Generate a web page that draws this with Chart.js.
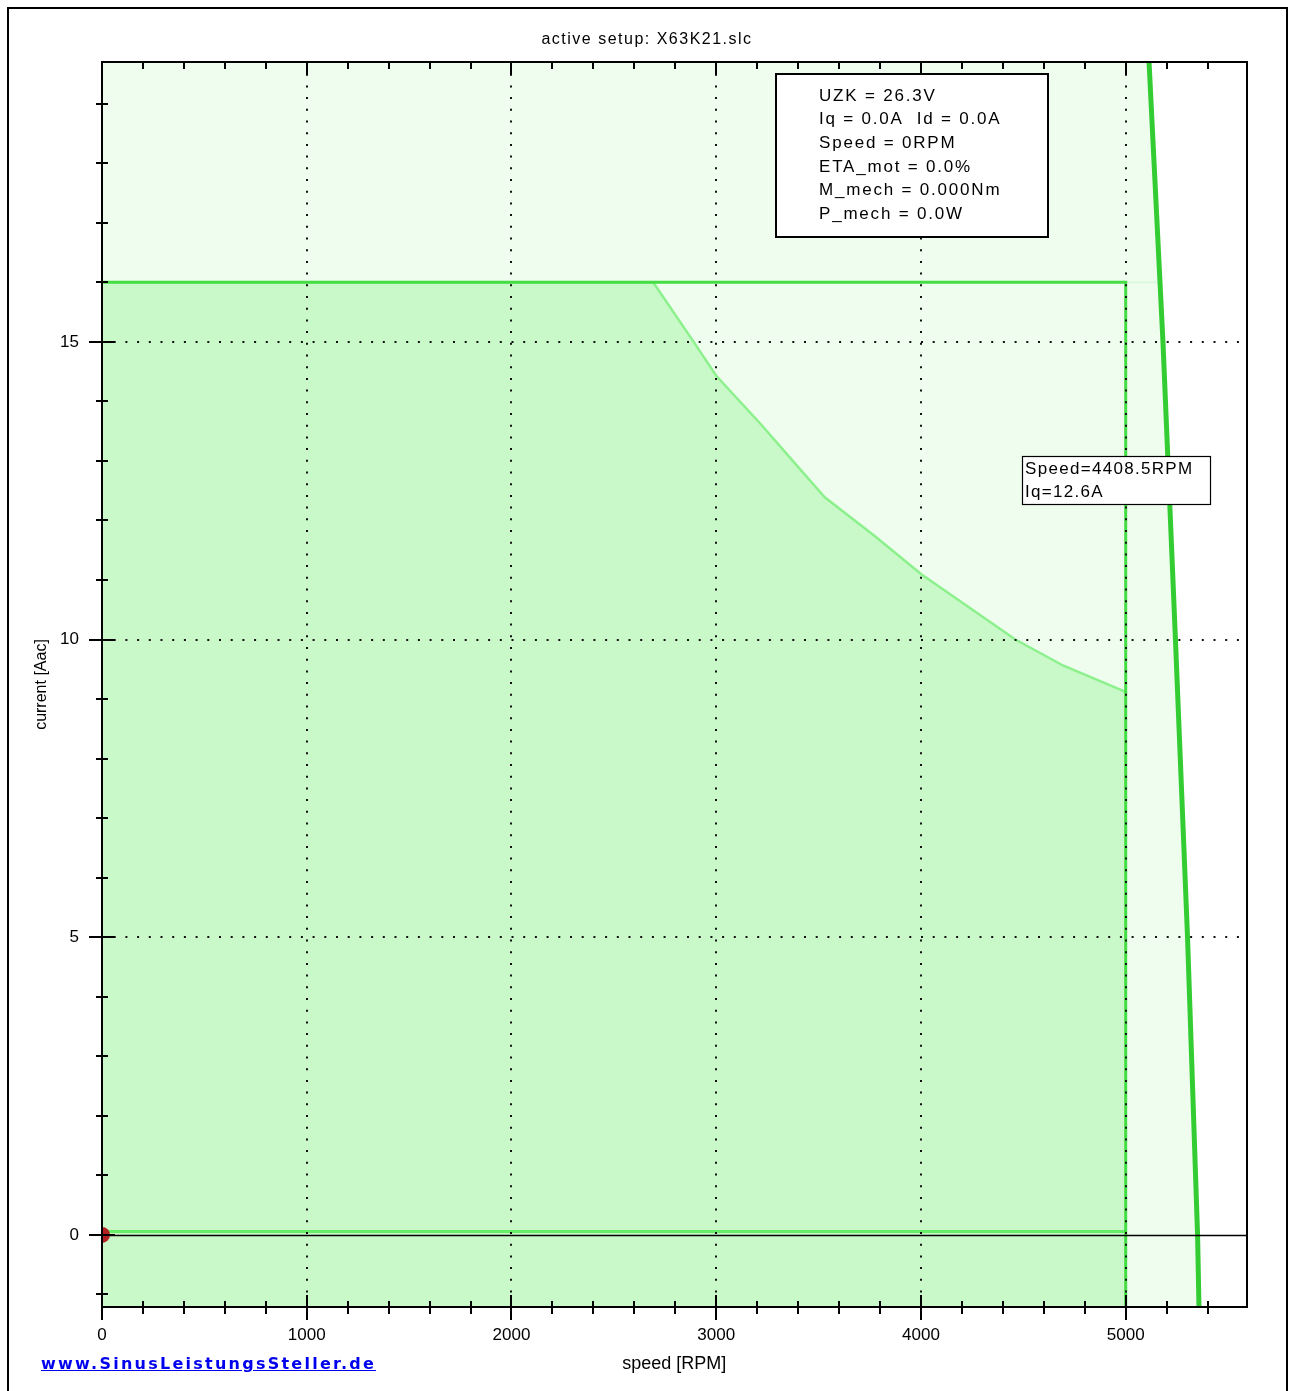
<!DOCTYPE html>
<html>
<head>
<meta charset="utf-8">
<script src="https://cdn.jsdelivr.net/npm/chart.js@4.4.0/dist/chart.umd.min.js"></script>
<style>
html,body{margin:0;padding:0;background:#fff;}
#wrap{position:relative;width:1289px;height:1391px;overflow:hidden;}
#link{position:absolute;left:41px;top:1354px;font:bold 16px "DejaVu Sans";letter-spacing:2.25px;color:#0000ee;text-decoration:underline;white-space:nowrap;}
</style>
</head>
<body>
<div id="wrap"><canvas id="c"></canvas><a id="link" href="#">www.SinusLeistungsSteller.de</a></div>
<script>
// ---- data ----
const speedRange = [0, 5590];
const currentRange = [-1.21, 19.7];

// current limit curve (dark area)
const limitSpeed   = [0, 2692, 2890, 3000, 3217, 3374, 3530, 3774, 4000, 4461, 4696, 5000];
const limitCurrent = [16, 16, 15, 14.43, 13.62, 13.0, 12.39, 11.74, 11.10, 10.0, 9.56, 9.12];

// max current / max speed boundary
const imaxSpeed   = [0, 5000, 5000];
const imaxCurrent = [16, 16, -1.21];

// faint continuation at 16 A
const faintSpeed   = [5000, 5167];
const faintCurrent = [16, 16];

// voltage limit line (steep)
const umaxSpeed   = [5114, 5182, 5243, 5302, 5351, 5358];
const umaxCurrent = [19.7, 15, 10, 5, 0, -1.21];

// Iq line near zero
const iqSpeed   = [0, 5000];
const iqCurrent = [0.06, 0.06];

// operating point
const opSpeed   = [0];
const opCurrent = [0];

// ticks
const xTickValues = [0, 200, 400, 600, 800, 1000, 1200, 1400, 1600, 1800, 2000, 2200, 2400, 2600, 2800,
                     3000, 3200, 3400, 3600, 3800, 4000, 4200, 4400, 4600, 4800, 5000, 5200, 5400];
const xTickLabels = [0, 1000, 2000, 3000, 4000, 5000];
const yTickValues = [-1, 0, 1, 2, 3, 4, 5, 6, 7, 8, 9, 10, 11, 12, 13, 14, 15, 16, 17, 18, 19];
const yTickLabels = [0, 5, 10, 15];

const titleText = "active setup: X63K21.slc";
const infoLines = ["UZK = 26.3V", "Iq = 0.0A  Id = 0.0A", "Speed = 0RPM", "ETA_mot = 0.0%", "M_mech = 0.000Nm", "P_mech = 0.0W"];
const tipLines = ["Speed=4408.5RPM", "Iq=12.6A"];

const pts = (xs, ys) => xs.map((x, i) => ({x: x, y: ys[i]}));
const lightData = [{x: speedRange[0], y: currentRange[1]}].concat(pts(umaxSpeed, umaxCurrent));

const UMAX_INDEX = 5;
const FONT = '"Liberation Sans", Arial, sans-serif';

const deco = {
  id: 'deco',
  afterDatasetDraw(chart, args) {
    if (args.index !== UMAX_INDEX) return;
    const ctx = chart.ctx, a = chart.chartArea;
    const y0 = Math.round(chart.scales.y.getPixelForValue(0)) + 0.5;
    ctx.save();
    ctx.strokeStyle = '#000'; ctx.lineWidth = 1.5;
    ctx.beginPath(); ctx.moveTo(a.left, y0); ctx.lineTo(a.right, y0); ctx.stroke();
    ctx.restore();
  },
  afterDraw(chart) {
    const ctx = chart.ctx, a = chart.chartArea, xs = chart.scales.x, ys = chart.scales.y;
    ctx.save();
    ctx.letterSpacing = '0px';
    // plot frame
    ctx.strokeStyle = '#000'; ctx.lineWidth = 2;
    ctx.strokeRect(Math.round(a.left), Math.round(a.top), Math.round(a.right - a.left), Math.round(a.bottom - a.top));
    // tick marks
    ctx.lineWidth = 2;
    ctx.beginPath();
    xs.ticks.forEach(t => {
      const px = Math.round(xs.getPixelForValue(t.value));
      const major = xTickLabels.includes(t.value);
      ctx.moveTo(px, a.bottom - (major ? 12 : 6)); ctx.lineTo(px, a.bottom + (major ? 13 : 7));
      ctx.moveTo(px, a.top); ctx.lineTo(px, a.top + (major ? 13 : 7));
    });
    ys.ticks.forEach(t => {
      const py = Math.round(ys.getPixelForValue(t.value));
      const major = yTickLabels.includes(t.value);
      ctx.moveTo(a.left - (major ? 13 : 6), py); ctx.lineTo(a.left + (major ? 13 : 6), py);
    });
    ctx.stroke();
    // outer frame
    ctx.beginPath();
    ctx.moveTo(8, 1391); ctx.lineTo(8, 8); ctx.lineTo(1287, 8); ctx.lineTo(1287, 1391);
    ctx.stroke();
    // title
    ctx.fillStyle = '#000';
    ctx.textBaseline = 'middle';
    ctx.textAlign = 'center';
    ctx.font = '16px ' + FONT;
    ctx.letterSpacing = '1.5px';
    ctx.fillText(titleText, 647, 40);
    // info box
    ctx.textAlign = 'left';
    ctx.fillStyle = '#fff';
    ctx.fillRect(776, 74, 272, 163);
    ctx.strokeStyle = '#000'; ctx.lineWidth = 2;
    ctx.strokeRect(776, 74, 272, 163);
    ctx.fillStyle = '#000';
    ctx.font = '17px ' + FONT;
    ctx.letterSpacing = '1.8px';
    infoLines.forEach((s, i) => ctx.fillText(s, 819, 96 + i * 23.7));
    // tooltip box
    ctx.fillStyle = '#fff';
    ctx.fillRect(1022.5, 456.5, 188, 48);
    ctx.lineWidth = 1.2;
    ctx.strokeRect(1022.5, 456.5, 188, 48);
    ctx.fillStyle = '#000';
    ctx.letterSpacing = '1.3px';
    tipLines.forEach((s, i) => ctx.fillText(s, 1025, 469 + i * 23));
    ctx.restore();
  }
};

new Chart(document.getElementById('c'), {
  type: 'line',
  data: {
    datasets: [
      {label: 'area', data: lightData, fill: 'start', backgroundColor: '#eefdee', borderWidth: 0, pointRadius: 0, order: 8},
      {label: 'limit', data: pts(limitSpeed, limitCurrent), fill: 'start', backgroundColor: '#c9f9c9', borderColor: '#8cf08c', borderWidth: 2.5, pointRadius: 0, order: 7},
      {label: 'faint', data: pts(faintSpeed, faintCurrent), fill: false, borderColor: '#dcf9dc', borderWidth: 2, pointRadius: 0, order: 6},
      {label: 'iq', data: pts(iqSpeed, iqCurrent), fill: false, borderColor: '#66ee66', borderWidth: 3, pointRadius: 0, order: 5},
      {label: 'imax', data: pts(imaxSpeed, imaxCurrent), fill: false, borderColor: '#44dd44', borderWidth: 3, pointRadius: 0, order: 4},
      {label: 'umax', data: pts(umaxSpeed, umaxCurrent), fill: false, borderColor: '#33cc33', borderWidth: 5, pointRadius: 0, order: 3},
      {label: 'op', data: pts(opSpeed, opCurrent), showLine: false, pointRadius: 8, pointBackgroundColor: '#b32222', pointBorderWidth: 0, clip: 0, order: 1}
    ]
  },
  options: {
    responsive: true,
    maintainAspectRatio: false,
    animation: false,
    events: [],
    layout: {padding: {left: 0, top: 62, right: 42.5, bottom: 0}},
    elements: {line: {tension: 0}},
    plugins: {legend: {display: false}, tooltip: {enabled: false}, title: {display: false}},
    scales: {
      x: {
        type: 'linear', min: speedRange[0], max: speedRange[1],
        afterFit(s) { s.height = 84; },
        afterBuildTicks(s) { s.ticks = xTickValues.map(v => ({value: v})); },
        ticks: {
          autoSkip: false, maxRotation: 0, minRotation: 0,
          padding: 18, color: '#000', font: {family: FONT, size: 17},
          callback: v => xTickLabels.includes(v) ? String(v) : ''
        },
        grid: {
          z: 1, drawTicks: false, lineWidth: 2,
          color: c => (c.tick && xTickLabels.includes(c.tick.value) && c.tick.value !== 0) ? '#111' : 'rgba(0,0,0,0)'
        },
        border: {display: false, dash: [2, 9.7]},
        title: {display: true, text: 'speed [RPM]', color: '#000', font: {family: FONT, size: 18}, padding: {top: 0, bottom: 16}}
      },
      y: {
        type: 'linear', min: currentRange[0], max: currentRange[1],
        afterFit(s) { s.width = 102; },
        afterBuildTicks(s) { s.ticks = yTickValues.map(v => ({value: v})); },
        ticks: {
          autoSkip: false,
          padding: 23, color: '#000', font: {family: FONT, size: 17},
          callback: v => yTickLabels.includes(v) ? String(v) : ''
        },
        grid: {
          z: 1, drawTicks: false, lineWidth: 2,
          color: c => (c.tick && yTickLabels.includes(c.tick.value) && c.tick.value !== 0) ? '#111' : 'rgba(0,0,0,0)'
        },
        border: {display: false, dash: [2, 9.7]},
        title: {display: true, text: 'current [Aac]', color: '#000', font: {family: FONT, size: 16}, padding: {top: 32, bottom: 0}}
      }
    }
  },
  plugins: [deco]
});
</script>
</body>
</html>
